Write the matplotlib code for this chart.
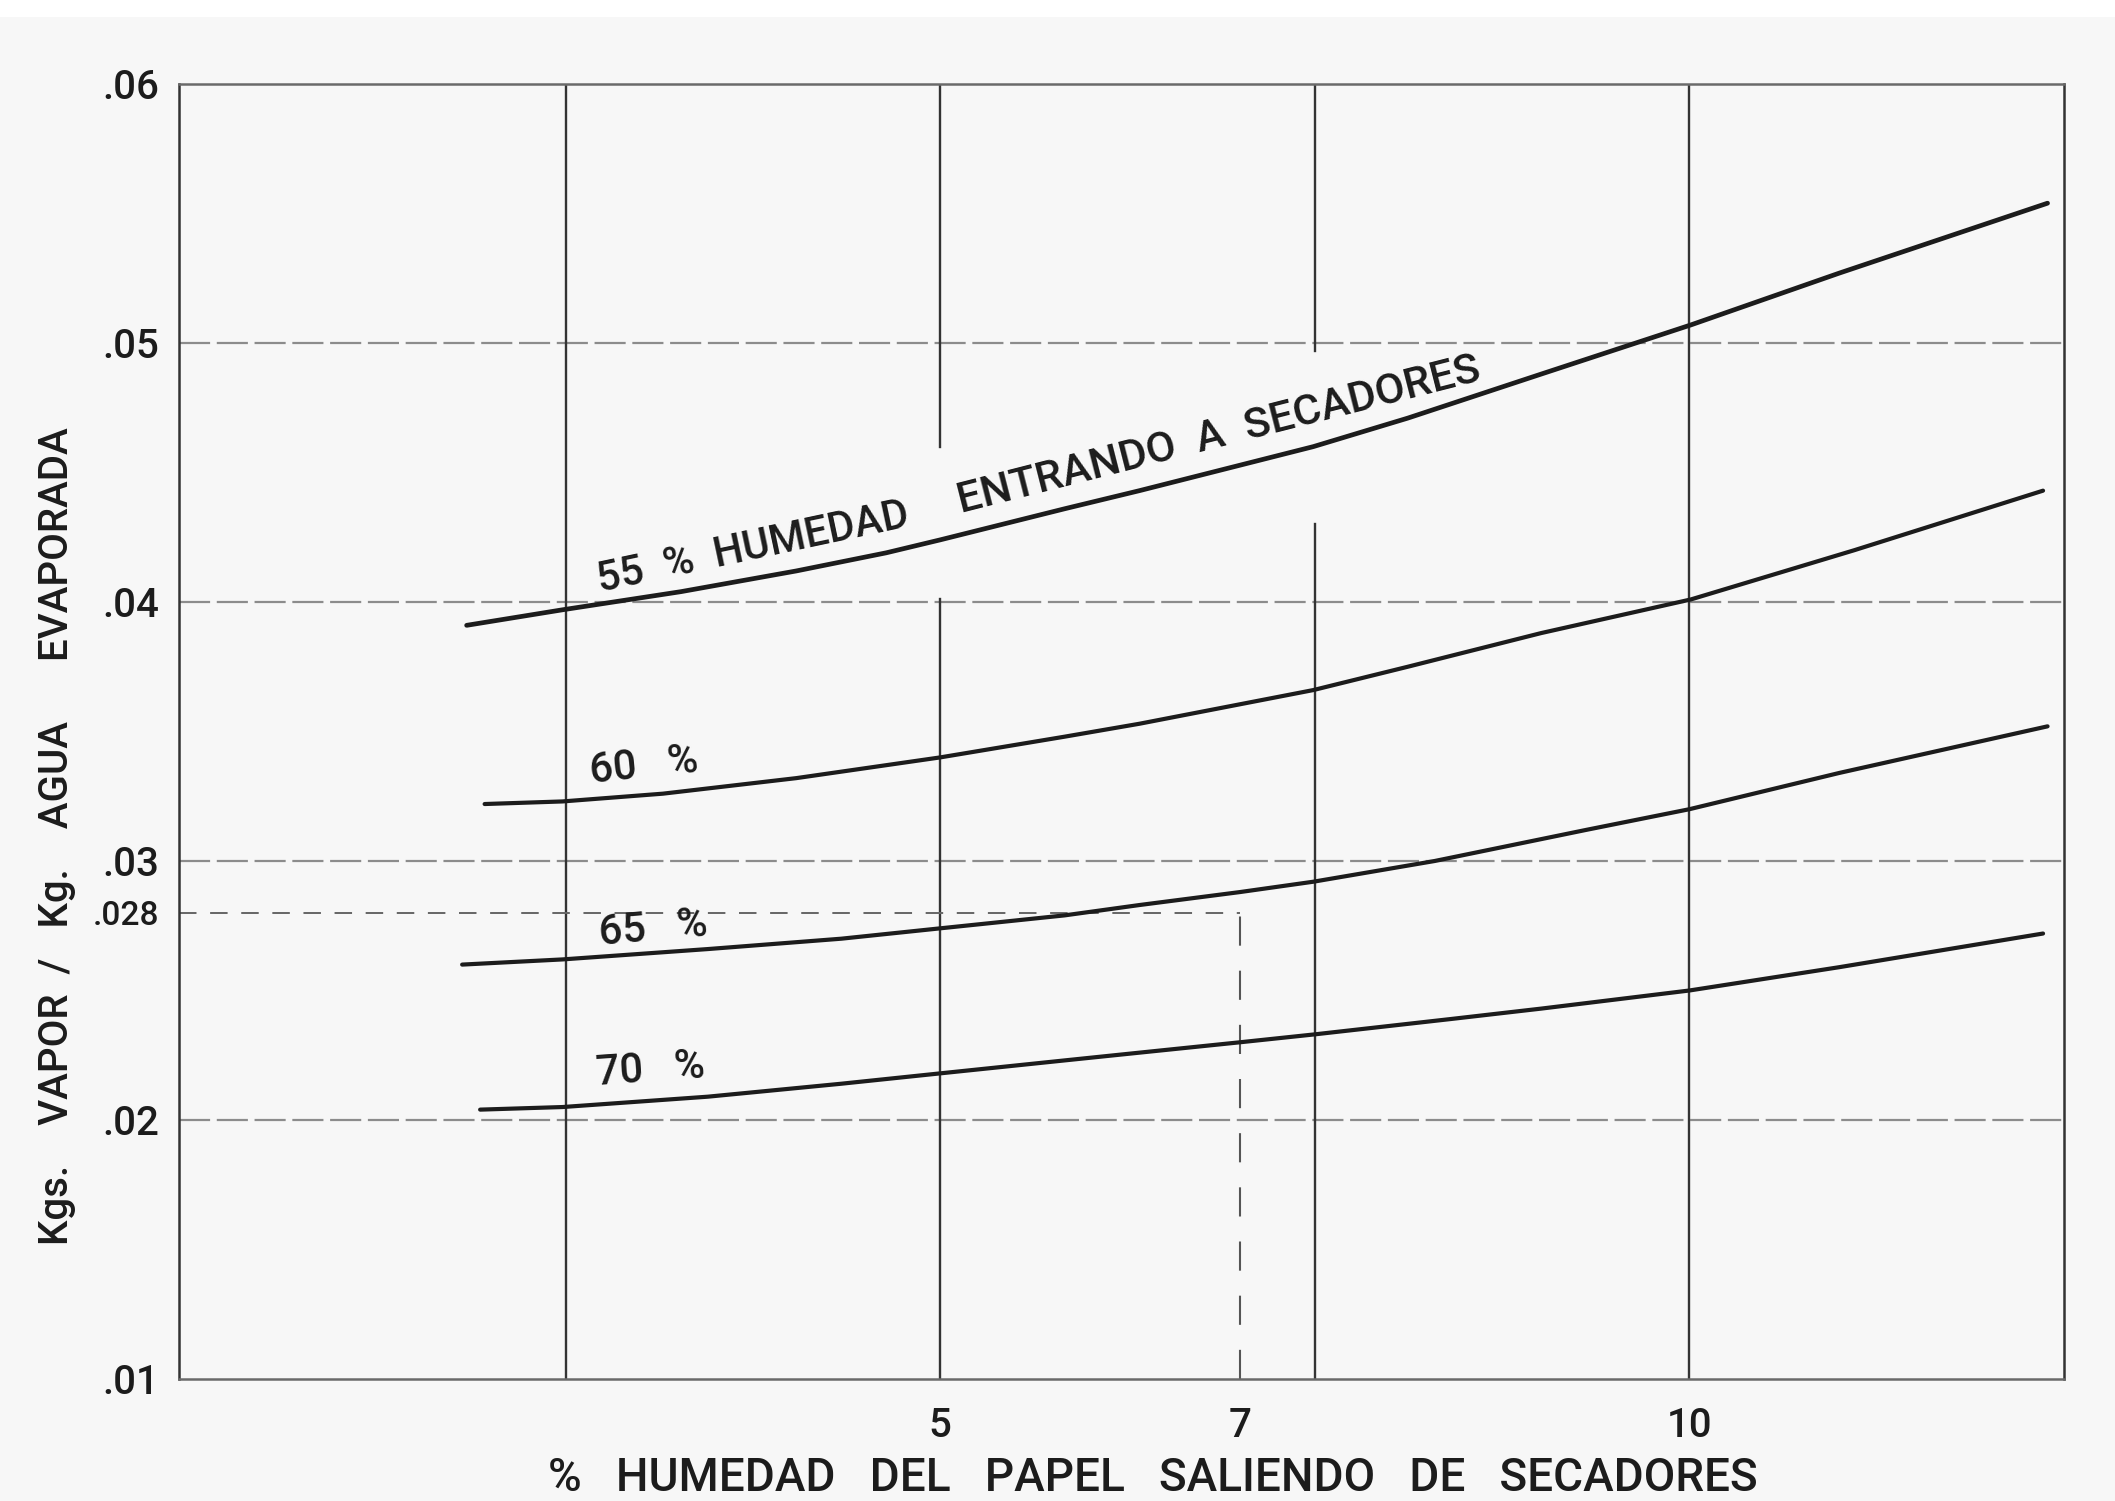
import numpy as np
import matplotlib.pyplot as plt
from matplotlib.patches import Rectangle

plt.rcParams['font.family'] = ['Roboto', 'DejaVu Sans']
plt.rcParams['font.weight'] = 'medium'

# curves: kg vapour per kg evaporated water vs. paper moisture leaving dryers
x_55 = [1.84, 2.48, 3.27, 4.04, 4.64, 5.0, 5.83, 6.33, 7.49, 8.12, 9.01, 10.01, 11.0, 12.39]
y_55 = [0.0391, 0.0397, 0.0404, 0.0412, 0.0419, 0.0424, 0.0436, 0.0443, 0.0460,
        0.0471, 0.0488, 0.0507, 0.0527, 0.0554]

x_60 = [1.96, 2.48, 3.15, 4.04, 5.0, 5.83, 6.33, 7.49, 8.12, 9.01, 10.01, 11.1, 12.36]
y_60 = [0.0322, 0.0323, 0.0326, 0.0332, 0.0340, 0.0348, 0.0353, 0.0366, 0.0375,
        0.0388, 0.0401, 0.0420, 0.0443]

x_65 = [1.81, 2.48, 3.45, 4.34, 5.0, 5.83, 6.33, 7.0, 7.49, 8.3, 9.31, 10.0, 11.0, 12.39]
y_65 = [0.0260, 0.0262, 0.0266, 0.0270, 0.0274, 0.0279, 0.0283, 0.0288, 0.0292,
        0.0300, 0.0312, 0.0320, 0.0334, 0.0352]

x_70 = [1.93, 2.48, 3.45, 4.34, 5.0, 5.83, 6.33, 7.0, 7.49, 8.41, 9.01, 10.0, 11.0, 12.36]
y_70 = [0.0204, 0.0205, 0.0209, 0.0214, 0.0218, 0.0223, 0.0226, 0.0230, 0.0233,
        0.0239, 0.0243, 0.0250, 0.0259, 0.0272]

# reading example: 7 % leaving -> .028
ref_x = 7.0
ref_y = 0.028

xticks = [5, 7, 10]
xticklabels = ["5", "7", "10"]
yticks = [0.01, 0.02, 0.028, 0.03, 0.04, 0.05, 0.06]
yticklabels = [".01", ".02", ".028", ".03", ".04", ".05", ".06"]

# vertical rulings, with the breaks left for lettering
vgrid = {2.5: [(0.01, 0.06)],
         5: [(0.01, 0.0401), (0.046, 0.06)],
         7.5: [(0.01, 0.043), (0.0497, 0.06)],
         10: [(0.01, 0.06)]}
hgrid = [0.02, 0.03, 0.04, 0.05]

ink = "#1c1c1c"
bg = "#f7f7f7"

fig = plt.figure(figsize=(21.15, 15.01), dpi=100, facecolor=bg)
fig.add_artist(Rectangle((0, 1 - 17 / 1501), 1, 17 / 1501, transform=fig.transFigure,
                         facecolor="white", edgecolor="none"))
ax = fig.add_axes([0.0846, 0.0813, 0.8913, 0.8627], facecolor=bg)

ax.set_xlim(-0.08, 12.5)
ax.set_ylim(0.01, 0.06)

for y in hgrid:
    ax.axhline(y, color="#8c8c8c", lw=1.6, dashes=(14, 3), zorder=1)
for x, segs in vgrid.items():
    for y0, y1 in segs:
        ax.plot([x, x], [y0, y1], color="#333333", lw=1.7, zorder=2)

# dashed reading lines: across from the axis, then down from the 65 % curve
ax.plot([ax.get_xlim()[0], ref_x], [ref_y, ref_y], color="#666666", lw=1.4,
        dashes=(9, 7), zorder=2)
ax.plot([ref_x, ref_x], [0.01, y_65[x_65.index(ref_x)]], color="#555555", lw=1.5,
        dashes=(14, 12), zorder=2)

ax.plot(x_55, y_55, color=ink, lw=3.4, solid_capstyle="round", solid_joinstyle="round", zorder=3)
ax.plot(x_60, y_60, color=ink, lw=3.0, solid_capstyle="round", solid_joinstyle="round", zorder=3)
ax.plot(x_65, y_65, color=ink, lw=3.0, solid_capstyle="round", solid_joinstyle="round", zorder=3)
ax.plot(x_70, y_70, color=ink, lw=3.0, solid_capstyle="round", solid_joinstyle="round", zorder=3)

lab = dict(color=ink, fontsize=30, ha="left", va="baseline", rotation_mode="anchor")
ax.text(2.73, 0.0404, "55  %  HUMEDAD", rotation=12, **lab)
ax.text(5.14, 0.04345, "ENTRANDO  A  SECADORES", rotation=14.3, fontsize=31,
        **{k: v for k, v in lab.items() if k != "fontsize"})
ax.text(2.67, 0.0330, "60   %", rotation=6, **lab)
ax.text(2.73, 0.02677, "65   %", rotation=5, **lab)
ax.text(2.71, 0.02136, "70   %", rotation=4, **lab)

ax.set_xticks(xticks)
ax.set_xticklabels(xticklabels)
ax.set_yticks(yticks)
ax.set_yticklabels(yticklabels)
ax.tick_params(axis="x", length=0, pad=20, labelsize=29, labelcolor=ink)
ax.tick_params(axis="y", length=0, pad=14, labelsize=29, labelcolor=ink)
for t in ax.get_yticklabels():
    if t.get_text() == ".028":
        t.set_fontsize(24)

for side in ["left", "right"]:
    ax.spines[side].set_color("#333333")
    ax.spines[side].set_linewidth(1.8)
for side in ["top", "bottom"]:
    ax.spines[side].set_color("#6a6a6a")
    ax.spines[side].set_linewidth(1.8)

fig.text(0.545, 0.0155, "%   HUMEDAD   DEL   PAPEL   SALIENDO   DE   SECADORES",
         ha="center", va="center", fontsize=33, color=ink)
fig.text(0.027, 0.443, "Kgs.    VAPOR  /   Kg.    AGUA      EVAPORADA",
         ha="center", va="center", rotation=90, fontsize=29, color=ink)

fig.savefig("out.png", dpi=100, facecolor=bg)
